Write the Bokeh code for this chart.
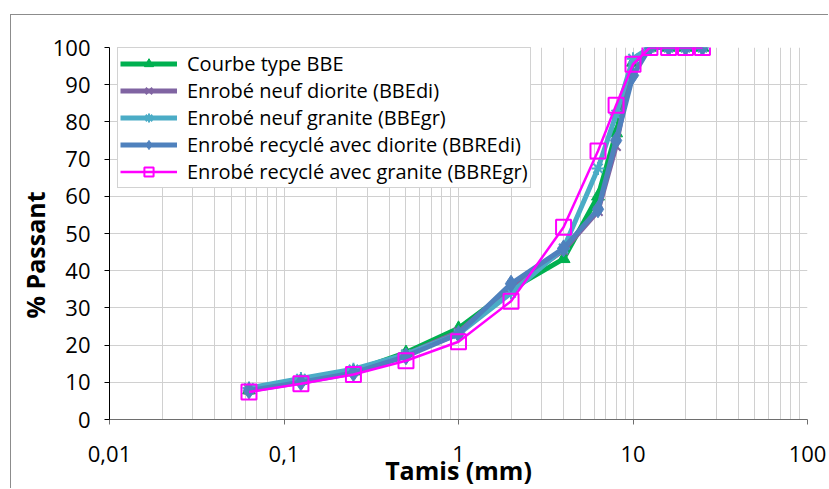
from bokeh.plotting import figure
from bokeh.models import Range1d, FixedTicker, Title
from bokeh.embed import file_html
from bokeh.resources import INLINE

# Sieve sizes (mm)
sieves = [0.063, 0.125, 0.25, 0.5, 1, 2, 4, 6.3, 8, 10, 12.5, 16, 20, 25]

# % passing
bbe_type = [7.9, 10.5, 13.0, 18.0, 24.5, 35.0, 43.2, 60.0, 77.0, 96.0, 100, 100, 100, 100]
bbe_di = [8.0, 10.5, 13.0, 17.5, 23.5, 35.5, 45.5, 56.0, 73.5, 96.5, 100, 100, 100, 100]
bbe_gr = [8.5, 11.0, 13.5, 17.5, 23.0, 34.0, 46.0, 67.5, 82.0, 97.0, 100, 100, 100, 100]
bbre_di = [7.8, 10.0, 12.5, 17.0, 23.0, 36.5, 46.0, 56.5, 75.0, 92.5, 100, 100, 100, 100]
bbre_gr = [7.4, 9.6, 12.1, 15.8, 20.9, 31.8, 51.7, 72.2, 84.5, 95.5, 100, 100, 100, 100]

labels = ["Courbe type BBE", "Enrobé neuf diorite (BBEdi)", "Enrobé neuf granite (BBEgr)",
          "Enrobé recyclé avec diorite (BBREdi)", "Enrobé recyclé avec granite (BBREgr)"]

x_ticks = [0.01, 0.1, 1, 10, 100]
x_tick_labels = ["0,01", "0,1", "1", "10", "100"]
y_ticks = list(range(0, 101, 10))

FONT = "Open Sans"

p = figure(width=818, height=474, x_axis_type="log",
           x_range=Range1d(0.01, 100), y_range=Range1d(0, 100),
           output_backend="svg", toolbar_location=None,
           min_border_left=98, min_border_right=22, min_border_top=32, min_border_bottom=67)
p.margin = (14, 0, 0, 10)
p.styles = {"border-left": "1px solid #8c8c8c", "border-top": "1px solid #8c8c8c"}
p.outline_line_color = None
p.background_fill_color = "white"
p.border_fill_color = "white"

# grids
grid_col = "#d0d0d0"
minor = [k * 10.0 ** e for e in range(-2, 2) for k in range(2, 10)]
p.xaxis.ticker = FixedTicker(ticks=x_ticks, minor_ticks=minor)
p.xaxis.major_label_overrides = {t: l for t, l in zip(x_ticks, x_tick_labels)}
p.yaxis.ticker = FixedTicker(ticks=y_ticks)
p.xgrid.grid_line_color = grid_col
p.xgrid.minor_grid_line_color = grid_col
p.ygrid.grid_line_color = grid_col

for ax in (p.xaxis, p.yaxis):
    ax.major_tick_in = 0
    ax.major_tick_out = 5
    ax.minor_tick_line_color = None
    ax.major_label_text_font = FONT
    ax.major_label_text_font_size = "22px"
    ax.major_label_text_color = "#000000"
    ax.axis_label_text_font = FONT
    ax.axis_label_text_font_style = "bold"
    ax.axis_label_text_font_size = "25px"
    ax.axis_label_text_color = "#000000"

p.yaxis.axis_line_color = "#000000"
p.yaxis.major_tick_line_color = "#000000"
p.xaxis.axis_line_color = "#6e6e6e"
p.xaxis.major_tick_line_color = "#6e6e6e"
p.xaxis.major_label_standoff = 21
p.yaxis.major_label_standoff = 14
p.xaxis.axis_label = "Tamis (mm)"
p.xaxis.axis_label_standoff = -12

# y-axis title, starting above the frame bottom as in the reference
ytitle = Title(text="% Passant", align="left", offset=101, standoff=-5,
               text_font=FONT, text_font_style="bold", text_font_size="25px",
               text_color="#000000")
p.add_layout(ytitle, "left")

# series
green, purple, teal, blue, magenta = "#00B050", "#8064A2", "#4BACC6", "#4F81BD", "#FF00FF"

p.line(sieves, bbe_type, color=green, line_width=5, legend_label=labels[0])
p.scatter(sieves, bbe_type, marker="triangle", size=13, color=green, legend_label=labels[0])

p.line(sieves, bbe_di, color=purple, line_width=5, legend_label=labels[1])
p.scatter(sieves, bbe_di, marker="x", size=13, line_width=2, color=purple, legend_label=labels[1])

p.line(sieves, bbe_gr, color=teal, line_width=5, legend_label=labels[2])
p.scatter(sieves, bbe_gr, marker="asterisk", size=13, line_width=2, color=teal, legend_label=labels[2])

p.line(sieves, bbre_di, color=blue, line_width=5, legend_label=labels[3])
p.scatter(sieves, bbre_di, marker="diamond", size=17, color=blue, legend_label=labels[3])

p.line(sieves, bbre_gr, color=magenta, line_width=2.5, legend_label=labels[4])
p.scatter(sieves, bbre_gr, marker="square", size=15, line_width=2, line_color=magenta,
          fill_alpha=0, legend_label=labels[4])

lg = p.legend[0]
lg.location = (8, 231)
lg.margin = 0
lg.padding = 2
lg.spacing = 0
lg.glyph_width = 57
lg.glyph_height = 23
lg.label_height = 23
lg.label_standoff = 10
lg.label_text_font = FONT
lg.label_text_font_size = "20px"
lg.label_text_color = "#000000"
lg.border_line_color = "#a6a6a6"
lg.border_line_width = 1.5
lg.background_fill_color = "white"
lg.background_fill_alpha = 1

open("out.html", "w").write(file_html(p, INLINE))
